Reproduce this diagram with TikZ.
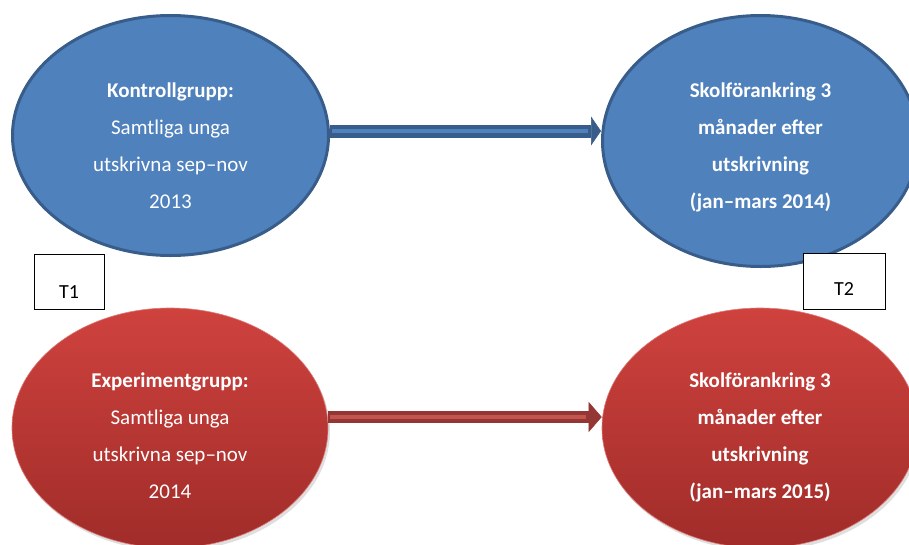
\documentclass[tikz,border=0pt]{standalone}
\usepackage{fontspec}
\setmainfont{Carlito}
\usetikzlibrary{arrows.meta,shapes.geometric,shadows}
\definecolor{bfill}{HTML}{4F81BD}
\definecolor{bline}{HTML}{385D8A}
\definecolor{rtop}{HTML}{CF423E}
\definecolor{rbot}{HTML}{A02C29}
\definecolor{rline}{HTML}{943634}
\definecolor{rlight}{HTML}{C45450}
\begin{document}
\begin{tikzpicture}[x=1pt,y=-1pt,
  blueell/.style={ellipse, draw=bline, line width=3pt, fill=bfill, inner sep=0pt,
    minimum width=316pt, minimum height=240pt},
  redell/.style={ellipse, top color=rtop, bottom color=rbot, draw=rtop!70!white, line width=0.6pt,
    inner sep=0pt, minimum width=316pt, minimum height=240pt,
    drop shadow={opacity=0.25, shadow xshift=2pt, shadow yshift=-3pt}},
  elltext/.style={text=white, align=center, inner sep=0pt, font=\fontsize{21}{37}\selectfont},
  elltextb/.style={elltext, font=\fontsize{21}{37}\selectfont\bfseries},
  tbox/.style={draw=black, line width=0.8pt, fill=white, inner sep=0pt, font=\fontsize{20}{24}\selectfont},
  bshaft/.style={line width=13pt, draw=bline, -{Triangle[length=10pt, width=29pt, line width=0.5pt]}},
  bstripe/.style={line width=3.5pt, draw=bfill, shorten >=13pt, shorten <=2pt},
  rshaft/.style={line width=12pt, draw=rline, -{Triangle[length=13pt, width=30pt, line width=0.5pt]}},
  rstripe/.style={line width=3.5pt, draw=rlight, shorten >=16pt, shorten <=2pt}
]
\useasboundingbox (0,0) rectangle (909,544);

\node[blueell, label={[elltext, yshift=-10pt]center:{\textbf{Kontrollgrupp:}\\Samtliga unga\\utskrivna sep–nov\\2013}}] (kg) at (170.5,135.5) {};
\node[blueell, minimum height=251pt, label={[elltextb, yshift=-6pt]center:{Skolförankring 3\\månader efter\\utskrivning\\(jan–mars 2014)}}] (s1) at (760.5,141) {};

\node[redell, label={[elltext, yshift=-8pt]center:{\textbf{Experimentgrupp:}\\Samtliga unga\\utskrivna sep–nov\\2014}}] (eg) at (170,428) {};
\node[redell, label={[elltextb, yshift=-9pt]center:{Skolförankring 3\\månader efter\\utskrivning\\(jan–mars 2015)}}] (s2) at (760,428) {};

\coordinate (by) at (0,131);
\coordinate (ry) at (0,417);
\draw[bshaft] (kg.east |- by) -- (s1.west |- by);
\draw[bstripe] (kg.east |- by) -- (s1.west |- by);
\draw[rshaft] (eg.east |- ry) -- (s2.west |- ry);
\draw[rstripe] (eg.east |- ry) -- (s2.west |- ry);

\node[tbox, minimum width=70pt, text height=44pt, text depth=11pt] (t1) at (69,281.5) {T1};
\node[tbox, minimum width=82pt, text height=42pt, text depth=14pt] (t2) at (844,281) {T2};
\end{tikzpicture}
\end{document}
